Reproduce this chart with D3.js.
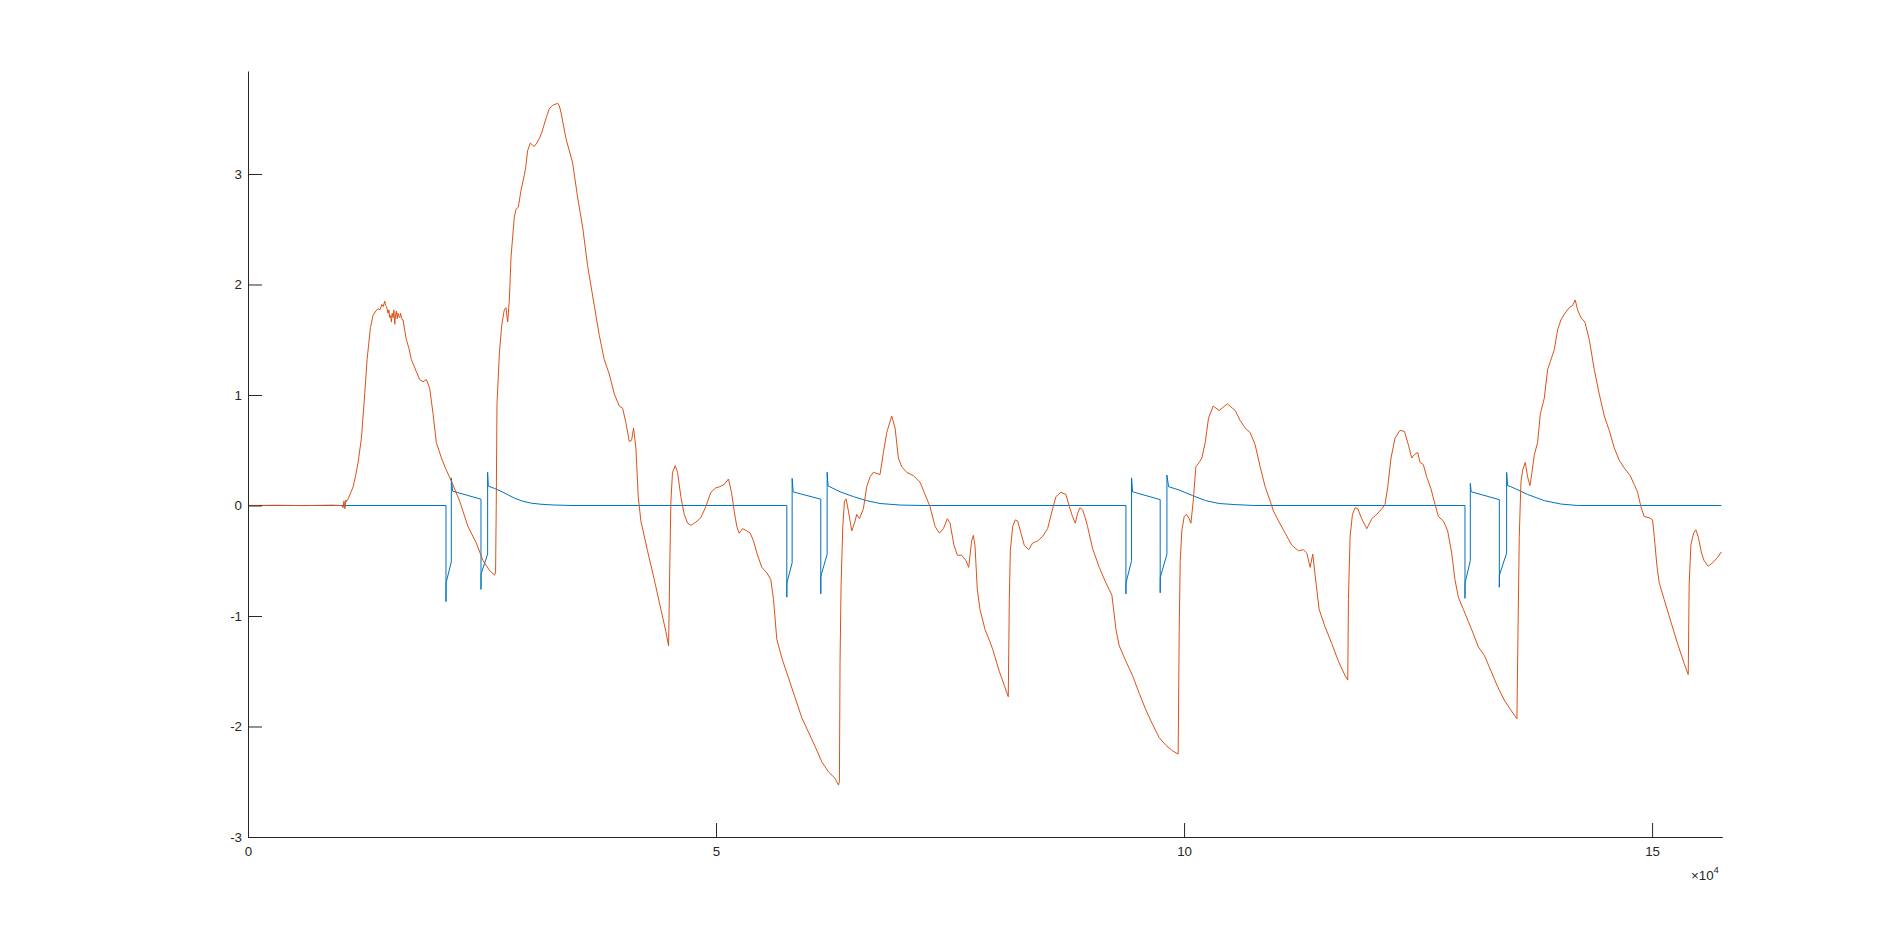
<!DOCTYPE html>
<html>
<head>
<meta charset="utf-8">
<script src="https://cdn.jsdelivr.net/npm/d3@7"></script>
<style>
  html, body { margin: 0; padding: 0; background: #fff; }
  svg { display: block; }
  .axis text { font-family: "Liberation Sans", Arial, Helvetica, sans-serif; font-size: 13.33px; fill: #262626; }
  .axis path, .axis line { stroke: #262626; }
</style>
</head>
<body>
<svg id="chart" width="1904" height="942"></svg>
<script>
// ---- data (x = sample index, y = signal value) ----
const xTicks = [0, 50000, 100000, 150000];
const yTicks = [-3, -2, -1, 0, 1, 2, 3];
const xExponentLabel = "×10";
const xExponent = "4";

// blue series: stimulus pulses  [sample, value]
const bluePoints = [
  [0,0],[21150,0],[21150,-0.87],[21160,-0.70],[21720,-0.51],[21720,0.25],[21860,0.13],[24890,0.057],[24890,-0.76],[24900,-0.62],[25600,-0.44],[25600,0.30],[25670,0.175],[26320,0.155],[27000,0.13],[27800,0.095],[28500,0.065],[29300,0.04],[30200,0.022],[31200,0.012],[32500,0.005],[34500,0],
  [57560,0],[57560,-0.83],[57570,-0.70],[58130,-0.52],[58130,0.245],[58240,0.123],[61190,0.057],[61190,-0.80],[61200,-0.64],[61870,-0.44],[61870,0.30],[61970,0.177],[63250,0.124],[64680,0.08],[66100,0.044],[67520,0.018],[69660,0.004],[72100,0],
  [93790,0],[93790,-0.80],[93800,-0.70],[94390,-0.50],[94390,0.25],[94500,0.124],[97450,0.053],[97450,-0.79],[97460,-0.65],[98170,-0.44],[98170,0.275],[98350,0.17],[99480,0.14],[100900,0.09],[102300,0.044],[103750,0.018],[105460,0.008],[107500,0],
  [130010,0],[130010,-0.84],[130020,-0.70],[130580,-0.50],[130580,0.20],[130680,0.124],[133680,0.053],[133680,-0.74],[133690,-0.63],[134460,-0.43],[134460,0.30],[134560,0.18],[134920,0.17],[136700,0.10],[138480,0.044],[140260,0.013],[142040,0],[157400,0]
];

// orange series: response  [sample, value]
const orangePoints = [
  [0,0],[3000,0.002],[6000,-0.001],[9000,0.003],[10000,0],[10160,-0.02],[10250,0.04],[10350,-0.03],[10450,0.05],[10520,0.035],[10700,0.06],[11000,0.12],[11230,0.17],[11500,0.27],[11760,0.39],[12120,0.61],[12470,1.01],[12720,1.32],[13080,1.61],[13360,1.72],[13650,1.76],[13900,1.78],[14100,1.77],[14300,1.82],[14450,1.80],[14610,1.85],[14700,1.81],[14800,1.80],[14960,1.74],[15050,1.77],[15150,1.70],[15250,1.72],[15320,1.66],[15400,1.74],[15500,1.70],[15580,1.77],[15680,1.64],[15760,1.73],[15850,1.76],[15940,1.69],[16030,1.74],[16120,1.71],[16210,1.70],[16300,1.74],[16400,1.70],[16480,1.68],[16570,1.68],[16750,1.58],[16920,1.50],[17200,1.42],[17450,1.32],[17700,1.27],[17990,1.21],[18340,1.14],[18700,1.12],[19060,1.14],[19410,1.06],[19770,0.83],[20120,0.57],[20660,0.43],[21190,0.32],[21730,0.22],[22610,0.04],[23500,-0.19],[24390,-0.34],[25110,-0.50],[25820,-0.59],[26350,-0.63],
  [26450,-0.60],[26520,0.0],[26600,0.92],[26850,1.37],[27100,1.63],[27380,1.77],[27560,1.79],[27740,1.66],[27920,1.86],[28100,2.25],[28450,2.61],[28630,2.68],[28880,2.70],[29160,2.85],[29520,2.99],[29700,3.08],[29870,3.21],[30160,3.28],[30400,3.26],[30590,3.25],[30850,3.28],[31120,3.32],[31400,3.38],[31650,3.45],[31900,3.52],[32190,3.59],[32540,3.62],[32800,3.63],[33080,3.64],[33250,3.62],[33430,3.56],[33970,3.32],[34680,3.10],[35210,2.79],[35750,2.52],[36280,2.17],[36990,1.81],[37530,1.54],[38060,1.32],[38590,1.19],[39130,1.01],[39660,0.90],[40020,0.88],[40370,0.75],[40730,0.58],[40980,0.59],[41190,0.70],[41440,0.52],[41690,0.08],[41970,-0.14],[42680,-0.41],[43400,-0.67],[44110,-0.94],[44640,-1.14],[44930,-1.27],
  [45070,-0.50],[45180,0.04],[45350,0.30],[45640,0.36],[45890,0.30],[46240,0.08],[46600,-0.08],[46960,-0.16],[47310,-0.18],[47850,-0.15],[48380,-0.11],[48910,-0.01],[49450,0.12],[49980,0.16],[50400,0.17],[50870,0.19],[51330,0.24],[51650,0.12],[51940,-0.05],[52220,-0.19],[52470,-0.25],[52830,-0.21],[53290,-0.23],[53650,-0.25],[54000,-0.32],[54360,-0.43],[54890,-0.56],[55430,-0.61],[55850,-0.67],[56140,-0.85],[56490,-1.21],[57030,-1.38],[57740,-1.56],[58450,-1.74],[59160,-1.92],[59870,-2.05],[60580,-2.18],[61300,-2.32],[62010,-2.41],[62720,-2.47],[63080,-2.53],[63180,-2.50],
  [63250,-1.41],[63360,-0.72],[63540,-0.19],[63720,0.04],[63900,0.06],[64140,-0.05],[64500,-0.23],[64860,-0.14],[65030,-0.08],[65320,-0.12],[65740,-0.03],[66100,0.17],[66460,0.26],[66810,0.30],[67520,0.28],[67880,0.48],[68240,0.66],[68770,0.81],[69130,0.70],[69480,0.43],[69840,0.35],[70370,0.30],[71080,0.27],[71800,0.21],[72330,0.10],[72860,-0.01],[73400,-0.19],[73860,-0.25],[74290,-0.21],[74710,-0.12],[75000,-0.16],[75420,-0.36],[75780,-0.45],[76240,-0.45],[76710,-0.50],[76990,-0.56],[77310,-0.32],[77490,-0.27],[77670,-0.37],[77910,-0.76],[78200,-0.94],[78730,-1.12],[79200,-1.22],[79550,-1.30],[80260,-1.50],[80800,-1.63],[81220,-1.73],
  [81330,-0.85],[81440,-0.41],[81690,-0.19],[81970,-0.13],[82220,-0.14],[82580,-0.25],[82930,-0.36],[83400,-0.40],[83820,-0.34],[84360,-0.32],[84890,-0.28],[85420,-0.21],[85960,-0.03],[86310,0.08],[86850,0.12],[87380,0.10],[87740,-0.01],[88090,-0.10],[88380,-0.16],[88630,-0.07],[88880,-0.02],[89160,-0.04],[89440,-0.11],[89690,-0.19],[90230,-0.39],[90940,-0.56],[91650,-0.70],[92290,-0.81],[92720,-1.12],[93080,-1.27],[93790,-1.41],[94500,-1.54],[95210,-1.70],[95920,-1.85],[96630,-1.98],[97340,-2.10],[98060,-2.17],[98770,-2.22],[99370,-2.25],
  [99480,-1.14],[99590,-0.50],[99760,-0.23],[100010,-0.10],[100260,-0.08],[100550,-0.12],[100730,-0.16],[100980,0.04],[101260,0.35],[101620,0.39],[101900,0.43],[102260,0.57],[102610,0.79],[103110,0.90],[103750,0.86],[104180,0.89],[104640,0.92],[105170,0.88],[105460,0.86],[105990,0.77],[106530,0.70],[107060,0.66],[107590,0.55],[108130,0.35],[108660,0.17],[109200,0.04],[109550,-0.05],[110090,-0.14],[110800,-0.25],[111510,-0.36],[112220,-0.41],[112750,-0.40],[113110,-0.43],[113470,-0.56],[113750,-0.44],[114000,-0.63],[114430,-0.94],[115070,-1.10],[115780,-1.25],[116490,-1.41],[117200,-1.54],[117490,-1.58],
  [117560,-0.85],[117740,-0.28],[117990,-0.08],[118270,-0.02],[118560,-0.03],[118980,-0.12],[119520,-0.21],[120050,-0.12],[120580,-0.08],[121120,-0.03],[121470,0.01],[121760,0.17],[122110,0.43],[122540,0.61],[123070,0.68],[123540,0.67],[123960,0.55],[124320,0.43],[124600,0.46],[124960,0.48],[125210,0.39],[125560,0.37],[125920,0.26],[126380,0.15],[126810,0.01],[127170,-0.10],[127700,-0.14],[128160,-0.23],[128590,-0.43],[128940,-0.67],[129300,-0.83],[129840,-0.94],[130370,-1.05],[130900,-1.16],[131440,-1.28],[132100,-1.36],[132800,-1.50],[133500,-1.64],[134200,-1.76],[134900,-1.85],[135560,-1.93],
  [135670,-1.16],[135810,-0.28],[135990,0.21],[136170,0.32],[136450,0.39],[136700,0.26],[136950,0.18],[137170,0.30],[137420,0.46],[137770,0.57],[138060,0.83],[138480,0.97],[138840,1.23],[139120,1.30],[139550,1.41],[139910,1.59],[140260,1.68],[140690,1.74],[141150,1.79],[141510,1.81],[141790,1.86],[142040,1.77],[142400,1.70],[142820,1.66],[143290,1.50],[143820,1.23],[144350,1.01],[144890,0.81],[145420,0.68],[145960,0.52],[146490,0.41],[147020,0.34],[147660,0.27],[148090,0.19],[148450,0.12],[148800,-0.01],[149160,-0.10],[149690,-0.11],[150050,-0.13],[150230,-0.28],[150510,-0.54],[150760,-0.70],[151290,-0.85],[152000,-1.05],[152720,-1.25],[153430,-1.43],[153860,-1.53],
  [153960,-0.72],[154140,-0.36],[154430,-0.25],[154670,-0.22],[154920,-0.28],[155280,-0.43],[155560,-0.50],[155990,-0.55],[156450,-0.52],[156990,-0.47],[157400,-0.42]
];

const blue = bluePoints.map(([x, y]) => ({x, y}));
const orange = orangePoints.map(([x, y]) => ({x, y}));

// ---- drawing ----
const svg = d3.select("#chart");
svg.append("rect").attr("width", 1904).attr("height", 942).attr("fill", "#fff");

const x = d3.scaleLinear().domain([0, 157500]).range([248, 1722.3]);
const y = d3.scaleLinear().domain([-3, 3.932]).range([837, 71]);

const line = d3.line().x(d => x(d.x)).y(d => y(d.y));

const plot = svg.append("g");
plot.append("path").datum(blue)
  .attr("fill", "none").attr("stroke", "#0072BD").attr("stroke-width", 1).attr("d", line);
plot.append("path").datum(orange)
  .attr("fill", "none").attr("stroke", "#D95319").attr("stroke-width", 1).attr("d", line);

svg.append("g").attr("class", "axis")
  .attr("transform", "translate(0,837)")
  .call(d3.axisBottom(x).tickValues(xTicks).tickFormat(d => String(d / 1e4))
    .tickSizeInner(-14).tickSizeOuter(0).tickPadding(10));

svg.append("g").attr("class", "axis")
  .attr("transform", "translate(248,0)")
  .call(d3.axisLeft(y).tickValues(yTicks).tickFormat(d => String(d))
    .tickSizeInner(-14).tickSizeOuter(0).tickPadding(6));

svg.selectAll(".axis text").attr("font-family", null).attr("font-size", null);

const exp = svg.append("text")
  .attr("x", 1691).attr("y", 880)
  .attr("font-family", "Liberation Sans, Arial, Helvetica, sans-serif")
  .attr("font-size", "13.33px").attr("fill", "#262626")
  .text(xExponentLabel);
exp.append("tspan").attr("dy", -7).attr("font-size", "9.5px").text(xExponent);
</script>
</body>
</html>
